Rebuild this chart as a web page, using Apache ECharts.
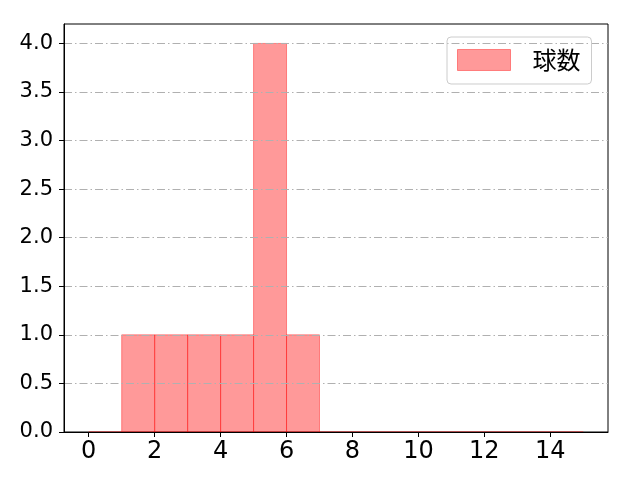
<!DOCTYPE html>
<html>
<head>
<meta charset="utf-8">
<script src="https://cdn.jsdelivr.net/npm/echarts@6/dist/echarts.min.js"></script>
<style>html,body{margin:0;padding:0;background:#fff}#c{width:640px;height:480px}</style>
</head>
<body>
<div id="c"></div>
<script>
const seriesName = '球数';
const binStarts = [0,1,2,3,4,5,6,7,8,9,10,11,12,13,14];
const binEnds   = [1,2,3,4,5,6,7,8,9,10,11,12,13,14,15];
const counts    = [0,1,1,1,1,4,1,0,0,0,0,0,0,0,0];
const xTicks = [0,2,4,6,8,10,12,14];
const yTicks = [0,0.5,1,1.5,2,2.5,3,3.5,4];

const FONT = '"DejaVu Sans", "Noto Sans CJK JP", sans-serif';
const data = binStarts.map((s,i)=>[s, binEnds[i], counts[i]]);

const chart = echarts.init(document.getElementById('c'));
chart.setOption({
  animation: false,
  backgroundColor: '#ffffff',
  grid: {left: 64, right: 32, top: 24, bottom: 48, show: true, borderColor: '#000', borderWidth: 1, backgroundColor: 'transparent'},
  legend: {
    left: 447, top: 37,
    padding: [11, 11, 12, 10],
    borderColor: '#cccccc', borderWidth: 1, borderRadius: 4,
    itemWidth: 53, itemHeight: 21,
    icon: 'rect',
    textStyle: {fontSize: 24, fontFamily: '"Noto Sans CJK JP", sans-serif', color: '#000', padding: [0,0,0,17]},
    data: [{name: seriesName, itemStyle: {color: 'rgba(255,0,0,0.4)', borderColor: 'rgba(255,0,0,0.4)', borderWidth: 1}}]
  },
  xAxis: {
    type: 'value', min: -0.75, max: 15.75, z: 4,
    axisLine: {show: true, onZero: false, lineStyle: {color: '#000', width: 1}},
    axisTick: {show: true, length: 5, customValues: xTicks, lineStyle: {color: '#000'}},
    axisLabel: {customValues: xTicks, fontSize: 24, fontFamily: FONT, color: '#000', margin: 8},
    splitLine: {show: false}
  },
  yAxis: {
    type: 'value', min: 0, max: 4.2, interval: 0.5, z: 3,
    axisLine: {show: true, onZero: false, lineStyle: {color: '#000', width: 1}},
    axisTick: {show: true, length: 5, customValues: yTicks, lineStyle: {color: '#000'}},
    axisLabel: {customValues: yTicks, fontSize: 21, fontFamily: FONT, color: '#000', margin: 11,
      formatter: v => v.toFixed(1)},
    splitLine: {show: true, lineStyle: {color: '#b0b0b0', width: 1, type: [8,3,1.5,3]}}
  },
  series: [{
    name: seriesName,
    type: 'custom',
    z: 2,
    renderItem: function(params, api){
      const s = api.value(0), e = api.value(1), c = api.value(2);
      const p0 = api.coord([s, c]);
      const p1 = api.coord([e, 0]);
      return {
        type: 'rect',
        shape: {x: p0[0], y: p0[1], width: p1[0]-p0[0], height: p1[1]-p0[1]},
        style: {fill: 'rgba(255,0,0,0.4)', stroke: 'rgba(255,0,0,0.4)', lineWidth: 1}
      };
    },
    encode: {x: [0,1], y: 2},
    data: data
  }]
});
</script>
</body>
</html>
